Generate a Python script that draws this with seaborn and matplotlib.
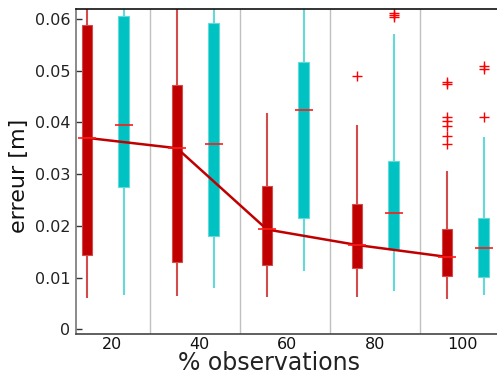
import numpy as np
import pandas as pd
import matplotlib
matplotlib.use("Agg")
import matplotlib.pyplot as plt
import seaborn as sns
from matplotlib.ticker import FuncFormatter

# catégories (% d'observations) et deux séries de boîtes
obs = ["20", "40", "60", "80", "100"]
series = ["a", "b"]

# série rouge : moustache basse, Q1, médiane, Q3, moustache haute, points aberrants
red_lo = [0.0061, 0.0064, 0.0062, 0.0063, 0.0058]
red_q1 = [0.0144, 0.0131, 0.0124, 0.0119, 0.0103]
red_med = [0.0370, 0.0350, 0.0193, 0.0163, 0.0140]
red_q3 = [0.0589, 0.0473, 0.0277, 0.0242, 0.0193]
red_hi = [0.0850, 0.0780, 0.0419, 0.0395, 0.0306]
red_out = [[], [], [], [0.0489],
           [0.0478, 0.0474, 0.0411, 0.0403, 0.0393, 0.0373, 0.0358]]

# série cyan
cyan_lo = [0.0066, 0.0080, 0.0112, 0.0075, 0.0066]
cyan_q1 = [0.0275, 0.0181, 0.0216, 0.0156, 0.0102]
cyan_med = [0.0395, 0.0358, 0.0424, 0.0224, 0.0157]
cyan_q3 = [0.0605, 0.0591, 0.0517, 0.0326, 0.0216]
cyan_hi = [0.0850, 0.0850, 0.0750, 0.0570, 0.0372]
cyan_out = [[], [], [], [0.0612, 0.0607, 0.0603], [0.0509, 0.0503, 0.0411]]

RED = "#c00000"
CYAN = "#00c2c2"


def sample(lo, q1, med, q3, hi, out):
    # échantillon dont les quartiles retombent exactement sur les valeurs lues
    k = len(out)
    m = k + 3
    return [lo] * (k + 1) + [q1] * m + [med] * m + [q3] * m + [hi] + list(out)


rows = []
for name, st in (("a", (red_lo, red_q1, red_med, red_q3, red_hi, red_out)),
                 ("b", (cyan_lo, cyan_q1, cyan_med, cyan_q3, cyan_hi, cyan_out))):
    for i, o in enumerate(obs):
        for v in sample(*(s[i] for s in st)):
            rows.append((o, name, v))
df = pd.DataFrame(rows, columns=["obs", "serie", "erreur"])

sns.set_style("white")
plt.rcParams["font.family"] = ["DejaVu Sans"]

fig = plt.figure(figsize=(4.97, 3.78), dpi=100)
ax = fig.add_axes([76 / 497, 1 - 334 / 378, 421 / 497, 325 / 378])

sns.boxplot(data=df, x="obs", y="erreur", hue="serie", order=obs, hue_order=series,
            palette=[RED, CYAN], saturation=1, width=0.816, gap=0.713,
            showcaps=False, whis=1.5, legend=False, ax=ax,
            flierprops=dict(marker="+", markersize=7, markeredgecolor="#ff0000",
                            markeredgewidth=1),
            medianprops=dict(color="#ff1a1a", linewidth=1.2),
            whiskerprops=dict(linewidth=1.5),
            boxprops=dict(linewidth=0.8))

line_cols = ["#d24c4c", "#62dada"]
for cont, fill, lc in zip(ax.containers, [RED, CYAN], line_cols):
    for b in cont.boxes:
        b.set_facecolor(fill)
        b.set_edgecolor(lc)
    for w in cont.whiskers:
        w.set_color(lc)
    for md in cont.medians:
        xd = np.asarray(md.get_xdata(), dtype=float)
        c = xd.mean()
        md.set_xdata([c - 0.1, c + 0.1])
        md.set_zorder(6)
    for f in cont.fliers:
        f.set_markeredgecolor("#ff0000")

# ligne reliant les médianes rouges
sns.lineplot(x=np.arange(len(obs)) - 0.204, y=red_med, color=RED, lw=1.8,
             ax=ax, zorder=5)

for s in np.arange(len(obs) - 1) + 0.5:
    ax.axvline(s, color="#c0c0c0", lw=1, zorder=0)

ax.set_xlim(-0.326, 4.352)
ax.set_ylim(-0.0009, 0.0619)
ax.set_xticks(np.arange(len(obs)) * 0.974 + 0.07, labels=obs)
ax.set_yticks([0, 0.01, 0.02, 0.03, 0.04, 0.05, 0.06])
ax.yaxis.set_major_formatter(FuncFormatter(lambda v, p: "%g" % round(v, 3)))
ax.tick_params(axis="y", left=True, direction="in", length=4, width=1,
               color="#333333", labelsize=11.5, pad=4, labelcolor="#222222")
ax.tick_params(axis="x", bottom=False, length=0, labelsize=11.5, pad=2,
               labelcolor="#111111")

ax.spines["right"].set_visible(False)
ax.spines["top"].set_color("#111111")
ax.spines["left"].set_color("#777777")
ax.spines["bottom"].set_color("#444444")
for sp in ax.spines.values():
    sp.set_linewidth(1.2)

ax.set_xlabel("% observations", fontsize=17, color="#222222")
ax.set_ylabel("erreur [m]", fontsize=16, color="#111111")
ax.xaxis.label.set_va("center")
ax.xaxis.set_label_coords((269 - 76) / 421, (334 - 363) / 325)
ax.yaxis.label.set_va("center")
ax.yaxis.set_label_coords((19 - 76) / 421, (334 - 176) / 325)

fig.savefig("out.png", dpi=100)
